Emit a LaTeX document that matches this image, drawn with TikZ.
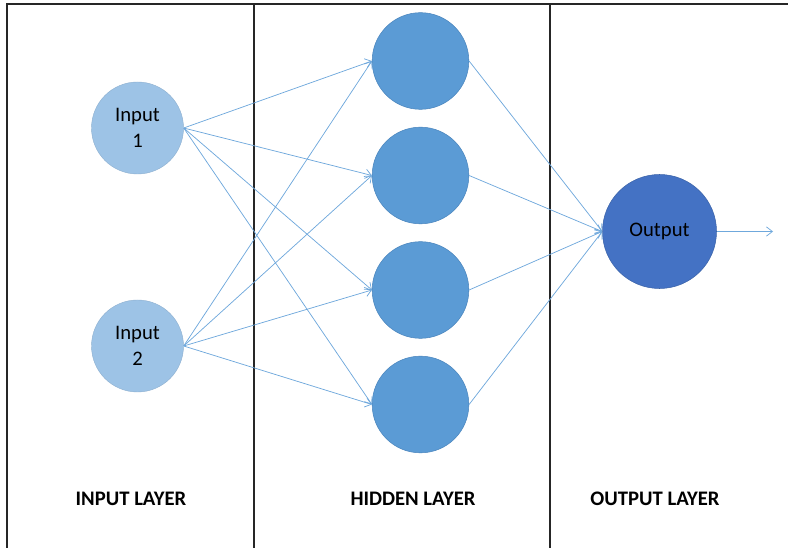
\documentclass[tikz,border=0pt]{standalone}
\usepackage{fontspec}
\setmainfont{Carlito}
\usetikzlibrary{arrows.meta}
\definecolor{inputfill}{HTML}{9DC3E6}
\definecolor{hiddenfill}{HTML}{5B9BD5}
\definecolor{hiddenedge}{HTML}{4A85BD}
\definecolor{outfill}{HTML}{4472C4}
\definecolor{outedge}{HTML}{3A62A8}
\definecolor{wire}{HTML}{6FA8DC}
\tikzset{
  frame/.style={draw=black!85, line width=0.8pt},
  inneuron/.style={circle, fill=inputfill, draw=inputfill!90!black, line width=0.3pt,
    minimum size=69pt, inner sep=0pt, align=center, font=\fontsize{15.5}{19}\selectfont},
  hidneuron/.style={circle, fill=hiddenfill, draw=hiddenedge, line width=0.4pt,
    minimum size=72.5pt, inner sep=0pt},
  outneuron/.style={circle, fill=outfill, draw=outedge, line width=0.4pt,
    minimum size=85.5pt, inner sep=0pt, font=\fontsize{15.5}{19}\selectfont},
  wireline/.style={draw=wire, line width=0.55pt, -{Straight Barb[length=4.5pt,width=7pt]}},
  layerlabel/.style={font=\bfseries\fontsize{15.5}{19}\selectfont}
}
\begin{document}
\begin{tikzpicture}[x=0.75pt, y=-0.75pt]
\useasboundingbox (0,0) rectangle (789,548);

% frame and layer separators
\draw[frame] (6,4) -- (788,4);
\draw[frame] (7,4) -- (7,548);
\draw[frame] (254,4) -- (254,548);
\draw[frame] (550,4) -- (550,548);

% neurons
\node[inneuron] (i1) at (137.5,128) {Input\\1};
\node[inneuron] (i2) at (137.5,346) {Input\\2};
\node[hidneuron] (h1) at (420.5,61) {};
\node[hidneuron] (h2) at (420.5,175.5) {};
\node[hidneuron] (h3) at (420.5,290) {};
\node[hidneuron] (h4) at (420.5,404.5) {};
\node[outneuron] (o) at (659.5,231.5) {Output};
\coordinate (out) at (773,231.5);

% connections input -> hidden
\foreach \i in {i1,i2}{
  \foreach \h in {h1,h2,h3,h4}{
    \draw[wireline] (\i.east) -- (\h.west);
  }
}
% connections hidden -> output
\foreach \h in {h1,h2,h3,h4}{
  \draw[wireline] (\h.east) -- (o.west);
}
\draw[wireline] (o.east) -- (out);

% layer captions
\node[layerlabel] (l1) at (131,499) {INPUT LAYER};
\node[layerlabel] (l2) at (413,499) {HIDDEN LAYER};
\node[layerlabel] (l3) at (655,499) {OUTPUT LAYER};
\end{tikzpicture}
\end{document}
